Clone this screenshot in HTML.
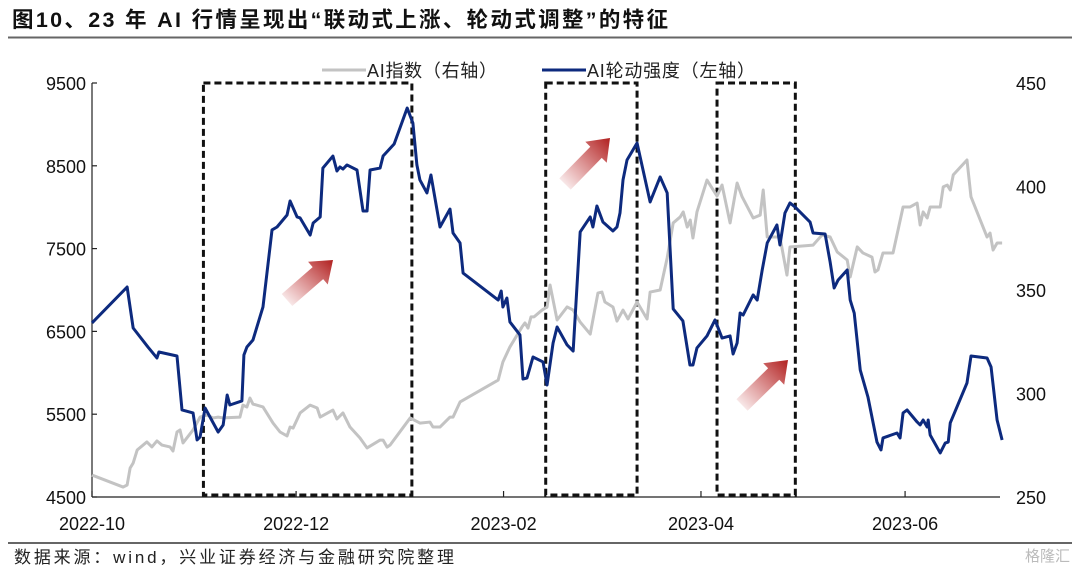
<!DOCTYPE html>
<html><head><meta charset="utf-8">
<style>
body{margin:0;background:#fff;width:1080px;height:571px;overflow:hidden;font-family:"Liberation Sans","Noto Sans CJK SC",sans-serif;}
svg text{font-family:"Liberation Sans","Noto Sans CJK SC",sans-serif;}
</style></head><body>
<svg id="chart" width="1080" height="571" viewBox="0 0 1080 571" xmlns="http://www.w3.org/2000/svg">
<defs>
<linearGradient id="ag" x1="0" y1="1" x2="1" y2="0"><stop offset="0" stop-color="#c0282a" stop-opacity="0"/><stop offset="1" stop-color="#b0201f"/></linearGradient>
</defs>
<text x="12" y="27" font-size="21.5" font-weight="bold" fill="#111" textLength="656" lengthAdjust="spacing">图10、23 年 AI 行情呈现出“联动式上涨、轮动式调整”的特征</text>
<line x1="8" y1="37.5" x2="1072" y2="37.5" stroke="#666" stroke-width="2"/>
<line x1="8" y1="543" x2="1072" y2="543" stroke="#666" stroke-width="2"/>
<text x="14" y="563" font-size="17" fill="#222" textLength="440" lengthAdjust="spacing">数据来源：wind，兴业证券经济与金融研究院整理</text>
<text x="1070" y="561" font-size="15" fill="#bbb" text-anchor="end">格隆汇</text>
<g id="legend">
<line x1="322" y1="70" x2="366" y2="70" stroke="#c3c3c3" stroke-width="3"/>
<text x="367" y="77" font-size="18" fill="#222" textLength="130" lengthAdjust="spacing">AI指数（右轴）</text>
<line x1="542" y1="70" x2="586" y2="70" stroke="#0d2a7e" stroke-width="3"/>
<text x="587" y="77" font-size="18" fill="#222" textLength="168" lengthAdjust="spacing">AI轮动强度（左轴）</text>
</g>
<g id="axes"></g>
<g id="boxes"></g>
<g id="series"></g>
</svg>
<script>
const leftTicks=[4500,5500,6500,7500,8500,9500];
const rightTicks=[250,300,350,400,450];
const xTickDays=[0,61,123,182,243];
const xTickLabels=["2022-10","2022-12","2023-02","2023-04","2023-06"];
const blueDays=[0,10.5,12.3,16.7,19.4,20,25.4,26.9,30.2,31.4,32.3,33.8,37.7,39.2,40.4,41.2,44.8,45.4,46.3,48.1,51.1,53.8,55.3,58.3,59.2,61.3,62.2,65.2,66.1,68.2,69,72,73.2,74.1,75,76.2,79.2,81,82.2,83.1,86.1,87,90.3,94.2,95.9,97.1,98,100.1,101.3,104,107,107.9,110,110.9,121.4,122.3,122.8,124,124.9,127.9,128.8,130,131.8,134.8,136,137.8,139,142,143.8,145.9,148.9,149.7,150.9,152.7,155.7,156.9,157.8,158.7,159.9,162.9,166.8,169.8,171.9,173.7,176.6,178.7,179.6,180.8,183.8,186.2,188.3,190.7,191.6,192.8,193.7,194.6,197.6,198.8,200.3,201.8,204.7,205.6,207.1,208.6,210.1,214.6,215.5,219.1,220.6,221.8,223,225.7,226.6,227.8,229.6,231.9,234.6,235.8,236.4,240.6,241.5,242.4,243.6,246.6,247.5,248.4,249.6,249.9,250.5,253.5,255,255.9,256.5,261.5,262.7,267.5,268.7,270.5,272];
const blueValues=[6602,7036,6541,6312,6179,6251,6203,5551,5515,5189,5225,5575,5285,5370,5732,5611,5660,6215,6312,6396,6795,7725,7761,7906,8075,7882,7870,7664,7809,7882,8473,8618,8437,8486,8461,8510,8449,7954,7954,8449,8473,8618,8763,9198,9017,8510,8329,8172,8389,7761,7978,7688,7568,7205,6879,6988,6795,6903,6614,6457,5925,5937,6191,6131,5853,6360,6553,6336,6263,7701,7882,7761,8015,7821,7713,7761,7930,8329,8570,8775,8063,8365,8172,6771,6626,6094,6094,6300,6445,6638,6420,6445,6227,6360,6722,6698,6940,6879,7242,7568,7785,7544,7930,8051,8003,7821,7688,7676,7338,7024,7121,7242,6879,6722,6034,5708,5164,5068,5213,5273,5213,5515,5551,5406,5370,5430,5346,5430,5249,5032,5152,5164,5394,5877,6203,6179,6070,5430,5189];
const greyDays=[0,9.3,10.5,11.4,12.3,13.5,16.4,17.9,19.4,20.9,23.3,24.2,25.4,26.3,27.2,30.2,32.3,34.4,36.2,37.7,39.2,44.2,45.1,46.3,47.2,48.1,51.1,54.1,56.2,58.3,59.2,60.1,62.2,65.2,67.3,68.2,72,73.2,75,77.1,80.1,82.2,86.1,87,88.2,89.1,95.1,98,101,101.9,104,107,107.9,110,121.4,122.8,124.9,128.5,129.4,130.3,131.2,132.1,134.5,136,136.9,139,142,143.8,145.9,148.9,151.2,152.4,153.3,155.7,156.9,158.7,160.2,162.9,165.9,166.8,169.8,171.9,173.7,175.8,176.7,177.9,178.8,179.6,180.8,183.8,186.8,188.3,190.7,192.8,194.3,197.6,199.7,200.6,201.8,205.6,207.7,208.6,215.5,218.2,220.6,222.7,225.7,226.6,228.7,230.4,233.1,234,234.9,236.4,239.4,242.4,244.5,246.6,247.5,248.4,249.6,250.5,253.5,254.4,255.6,256.5,257.4,261.5,262.7,267.5,268.4,269.3,270.5,272];
const greyValues=[260.6,254.8,255.8,264,266.4,272.7,276.6,274.2,277.1,275.1,274.2,272.2,281.4,282.4,276.1,282.4,288.6,289.6,288.2,288.6,288.2,288.6,294.4,293.5,297.8,294.9,293.5,285.7,281.4,279.5,283.8,283.3,290.6,294.4,293,288.6,292,287.7,290.6,283.8,278.5,273.7,277.5,277.5,274.1,275.1,288.2,285.7,286.2,283.8,283.8,288.6,288.6,295.9,306.5,315.2,322.5,332.1,334.1,331.6,337,337,340.3,341.8,352.4,335.5,341.8,340.3,334.5,328.7,348.5,349,344.2,341.8,335,340.3,336,344.2,336,349,350,365.5,382.4,385.3,387.7,380.4,383.8,375.1,387.7,403.1,395.4,400.7,382.4,401.7,395,384.8,386.2,398.3,375.6,375.6,357.2,370.8,371.7,376.6,375.6,368.4,364.5,356.3,370.8,367.9,365.9,358.7,359.7,367.9,367.9,390.1,390.1,392,381.4,387.7,384.8,390.1,390.1,399.8,400.7,398.3,405.6,412.8,395,375.6,377.5,369.3,372.7,372.7];
const boxRanges=[[33.3,95.6],[135.6,162.9],[186.8,210.2]];

const X0=92,PX_PER_DAY=3.346,YT=83,YB=497;
const xS=d=>X0+d*PX_PER_DAY;
const yL=v=>YB-(v-4500)/5000*(YB-YT);
const yR=v=>YB-(v-250)/200*(YB-YT);
const NS="http://www.w3.org/2000/svg";
function mk(tag,attrs,parent,txt){const e=document.createElementNS(NS,tag);for(const k in attrs)e.setAttribute(k,attrs[k]);if(txt!==undefined)e.textContent=txt;parent.appendChild(e);return e;}
const axes=document.getElementById('axes');
let e=mk('line',{x1:X0,y1:YT,x2:X0,y2:YB,stroke:'#222','stroke-width':1.2},axes);


e=mk('line',{x1:X0,y1:YB,x2:1000,y2:YB,stroke:'#222','stroke-width':1.2},axes);


leftTicks.forEach(v=>{
  const t=mk('line',{x1:X0,y1:yL(v),x2:X0+5,y2:yL(v),stroke:'#222','stroke-width':1.2},axes);
  
  
  const l=mk('text',{x:86,y:yL(v)+7,'font-size':18,'text-anchor':'end',fill:'#111'},axes,String(v));
  
  
});
rightTicks.forEach(v=>{
  const l=mk('text',{x:1016,y:yR(v)+7,'font-size':18,fill:'#111'},axes,String(v));
  
  
});
xTickDays.forEach((d,i)=>{
  const t=mk('line',{x1:xS(d),y1:YB,x2:xS(d),y2:YB-6,stroke:'#222','stroke-width':1.2},axes);
  
  
  const l=mk('text',{x:xS(d),y:530,'font-size':18,'text-anchor':'middle',fill:'#111'},axes,xTickLabels[i]);
  
  
});
const boxes=document.getElementById('boxes');
boxRanges.forEach((r,i)=>{
  const b=mk('rect',{x:xS(r[0]),y:YT,width:xS(r[1])-xS(r[0]),height:YB-YT-2,fill:'none',stroke:'#111','stroke-width':3,'stroke-dasharray':'7,4'},boxes);
  
  
});
const arrows=[[287,300,333,260],[565,184,610,138],[742,405,788,360]];
arrows.forEach((a,i)=>{
  const [x1,y1,x2,y2]=a;const dx=x2-x1,dy=y2-y1,L=Math.hypot(dx,dy),ux=dx/L,uy=dy/L,nx=-uy,ny=ux;
  const hb=[x2-ux*20,y2-uy*20];const w=8,hw=15;
  const pts=[[x1+nx*w,y1+ny*w],[hb[0]+nx*w,hb[1]+ny*w],[hb[0]+nx*hw,hb[1]+ny*hw],[x2,y2],[hb[0]-nx*hw,hb[1]-ny*hw],[hb[0]-nx*w,hb[1]-ny*w],[x1-nx*w,y1-ny*w]];
  const p=mk('polygon',{points:pts.map(q=>q.join(',')).join(' '),fill:'url(#ag)'},boxes);
  
  
});
const series=document.getElementById('series');
const gp=mk('polyline',{points:greyDays.map((d,i)=>xS(d)+','+yR(greyValues[i])).join(' '),fill:'none',stroke:'#c3c3c3','stroke-width':3,'stroke-linejoin':'round'},series);


const bp=mk('polyline',{points:blueDays.map((d,i)=>xS(d)+','+yL(blueValues[i])).join(' '),fill:'none',stroke:'#0d2a7e','stroke-width':3,'stroke-linejoin':'round'},series);


</script>
</body></html>
